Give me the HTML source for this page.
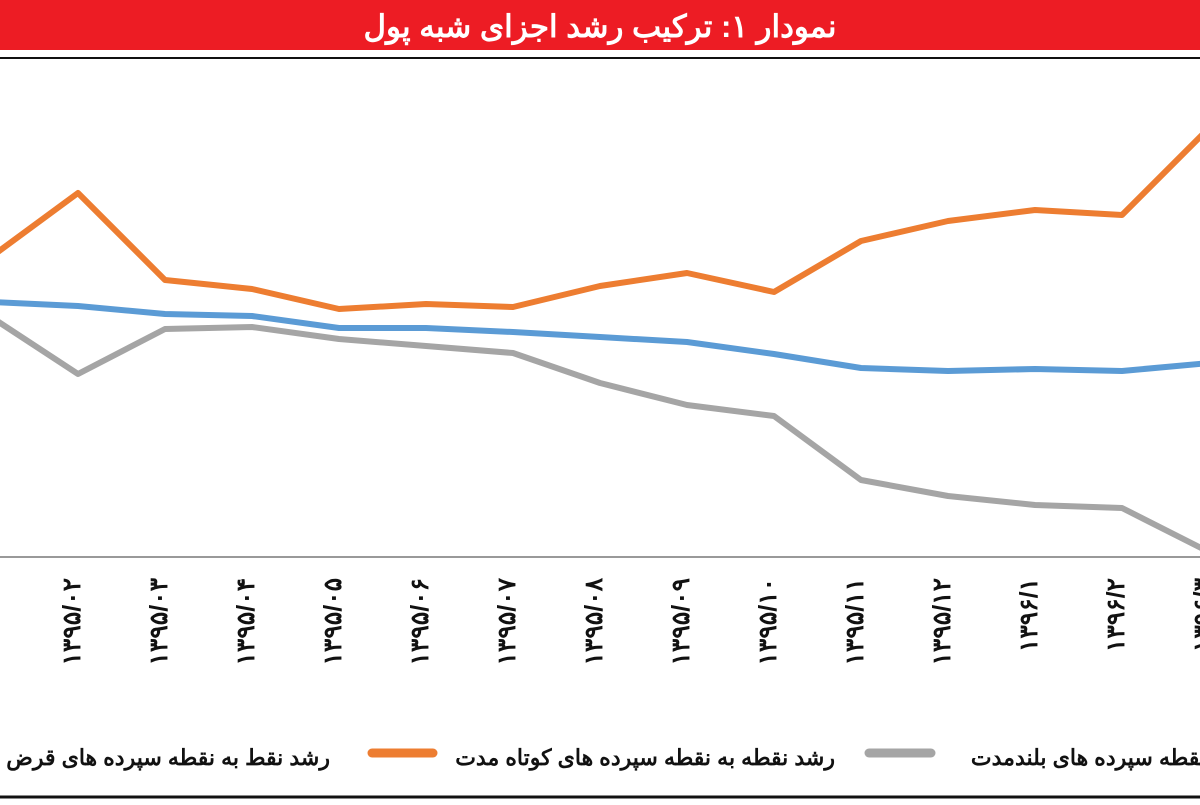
<!DOCTYPE html>
<html><head><meta charset="utf-8"><style>
body{margin:0;width:1200px;height:800px;overflow:hidden;background:#fff;font-family:"Liberation Sans","Noto Sans CJK SC",sans-serif}
</style></head><body>
<svg id="c" width="1200" height="800" xmlns="http://www.w3.org/2000/svg">
<rect x="0" y="0" width="1200" height="50" fill="#ed1c24"/>
<text x="600" y="37" text-anchor="middle" fill="#fff" font-size="31" font-weight="bold" font-family="'Liberation Sans','Noto Sans CJK SC',sans-serif">نمودار ۱: ترکیب رشد اجزای شبه پول</text>
<line x1="0" y1="58" x2="1200" y2="58" stroke="#111" stroke-width="2"/>
<line x1="0" y1="557" x2="1200" y2="557" stroke="#999" stroke-width="2"/>
<line x1="0" y1="797" x2="1200" y2="797" stroke="#111" stroke-width="3"/>
<g id="lines"></g><g id="ticks"></g>
<g font-size="22" font-weight="bold" fill="#111">
<text x="330" y="765" text-anchor="end">رشد نقط به نقطه سپرده های قرض</text>
<line x1="372" y1="753" x2="433" y2="753" stroke="#ed7d31" stroke-width="9" stroke-linecap="round"/>
<text x="835" y="765" text-anchor="end">رشد نقطه به نقطه سپرده های کوتاه مدت</text>
<line x1="869" y1="753" x2="931" y2="753" stroke="#a5a5a5" stroke-width="9" stroke-linecap="round"/>
<text x="1330" y="765" text-anchor="end">رشد نقطه به نقطه سپرده های بلندمدت</text>
</g>
</svg>
<script>
const categories=["۱۳۹۵/۰۱","۱۳۹۵/۰۲","۱۳۹۵/۰۳","۱۳۹۵/۰۴","۱۳۹۵/۰۵","۱۳۹۵/۰۶","۱۳۹۵/۰۷","۱۳۹۵/۰۸","۱۳۹۵/۰۹","۱۳۹۵/۱۰","۱۳۹۵/۱۱","۱۳۹۵/۱۲","۱۳۹۶/۱","۱۳۹۶/۲","۱۳۹۶/۳"];
const shortTerm=[30.0,36.4,27.7,26.8,24.8,25.3,25.0,27.1,28.4,26.5,31.6,33.6,34.7,34.2,42.9];
const loanDeposits=[25.5,25.1,24.3,24.1,22.9,22.9,22.5,22.0,21.5,20.3,18.9,18.6,18.8,18.6,19.4];
const longTerm=[24.0,18.3,22.8,23.0,21.8,21.1,20.4,17.4,15.2,14.1,7.7,6.1,5.2,4.9,0.5];
const NS="http://www.w3.org/2000/svg";
const xs=i=>-9+87*i;
const ys=v=>557-v*10;
const lg=document.getElementById('lines');
function line(data,color,name){
  const p=document.createElementNS(NS,'polyline');
  p.setAttribute('points',data.map((v,i)=>xs(i)+','+ys(v)).join(' '));
  p.setAttribute('fill','none');p.setAttribute('stroke',color);p.setAttribute('stroke-width','6');p.setAttribute('stroke-linejoin','round');
  
  
  lg.appendChild(p);
}
line(longTerm,'#a5a5a5','long-term-line');
line(loanDeposits,'#5b9bd5','loan-deposits-line');
line(shortTerm,'#ed7d31','short-term-line');
const tg=document.getElementById('ticks');
categories.forEach((c,i)=>{
  const t=document.createElementNS(NS,'text');
  const x=xs(i)-6,y=578;
  t.setAttribute('x',x);t.setAttribute('y',y);
  t.setAttribute('transform','rotate(-90 '+x+' '+y+')');
  t.setAttribute('text-anchor','end');t.setAttribute('font-size','25');t.setAttribute('font-weight','bold');t.setAttribute('fill','#111');
  t.setAttribute('letter-spacing','3');
  t.setAttribute('dominant-baseline','central');
  t.textContent=c;
  
  
  tg.appendChild(t);
});
</script>
</body></html>
